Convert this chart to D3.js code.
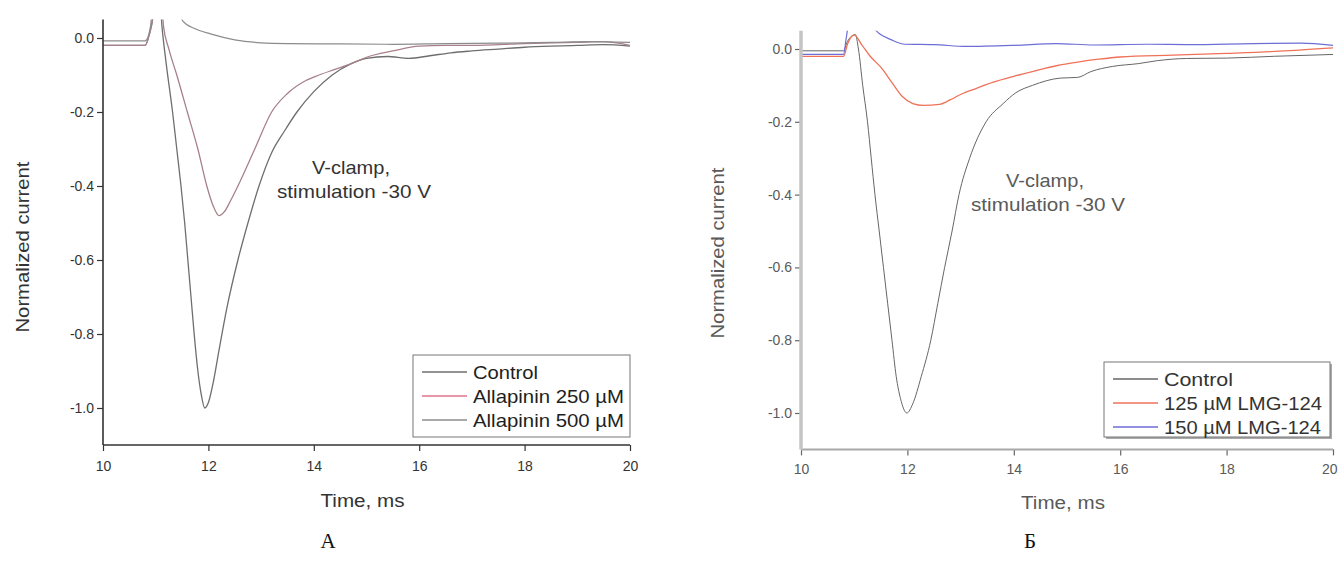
<!DOCTYPE html>
<html>
<head>
<meta charset="utf-8">
<script src="https://cdn.jsdelivr.net/npm/d3@7"></script>
<style>
  body { margin: 0; background: #fff; }
  svg { display: block; font-family: "Liberation Sans", Arial, sans-serif; }
</style>
</head>
<body>
<div id="chart"></div>
<script>
(function() {
    'use strict';

    // ---- data ----
    var timeTicks = [10, 12, 14, 16, 18, 20];
    var timeMinor = [11, 13, 15, 17, 19];
    var currentTicks = [0, -0.2, -0.4, -0.6, -0.8, -1.0];
    var currentMinor = [-0.1, -0.3, -0.5, -0.7, -0.9, -1.1];

    var legendA = ['Control', 'Allapinin 250 \u00b5M', 'Allapinin 500 \u00b5M'];
    var legendB = ['Control', '125 \u00b5M LMG-124', '150 \u00b5M LMG-124'];

    // panel A: time (ms), normalized current
    var controlA = [[10,-0.02],[10.8,-0.02],[10.88,0.01],[10.95,0.06],[11.0,0.14],[11.06,0.14],[11.12,0.03],
        [11.2,-0.07],[11.32,-0.2],[11.4,-0.3],[11.48,-0.4],[11.55,-0.5],[11.61,-0.6],[11.67,-0.7],[11.73,-0.8],
        [11.8,-0.9],[11.86,-0.96],[11.93,-1.0],[12.0,-0.985],[12.1,-0.925],[12.2,-0.845],[12.35,-0.73],
        [12.56,-0.6],[12.75,-0.5],[12.96,-0.4],[13.2,-0.31],[13.45,-0.25],[13.68,-0.2],[14.0,-0.145],
        [14.35,-0.1],[14.7,-0.07],[15.0,-0.055],[15.4,-0.05],[15.8,-0.055],[16.2,-0.048],[16.6,-0.04],
        [17,-0.035],[17.5,-0.03],[18,-0.025],[18.5,-0.022],[19,-0.02],[19.5,-0.018],[20,-0.022]];
    var allap250 = [[10,-0.02],[10.8,-0.02],[10.88,0.01],[10.95,0.06],[11.0,0.14],[11.08,0.14],[11.15,0.03],
        [11.25,-0.03],[11.4,-0.1],[11.6,-0.2],[11.8,-0.3],[11.97,-0.4],[12.08,-0.45],[12.2,-0.48],[12.3,-0.47],
        [12.42,-0.44],[12.56,-0.4],[12.88,-0.3],[13.2,-0.2],[13.5,-0.15],[13.85,-0.115],[14.1,-0.1],
        [14.4,-0.085],[14.7,-0.07],[15.0,-0.052],[15.5,-0.035],[16,-0.022],[16.5,-0.02],[17,-0.02],
        [18,-0.015],[19,-0.012],[19.5,-0.01],[20,-0.02]];
    var allap500 = [[10,-0.008],[10.8,-0.008],[10.9,0.03],[11.0,0.2],[11.3,0.2],[11.45,0.07],[11.52,0.045],
        [11.75,0.025],[12.04,0.011],[12.5,-0.005],[13.0,-0.013],[13.5,-0.015],[14.5,-0.016],[15.5,-0.017],
        [16.5,-0.015],[17.5,-0.014],[18.5,-0.012],[19.2,-0.01],[20,-0.012]];

    // panel Б
    var controlB = [[10,-0.005],[10.8,-0.005],[10.87,0.02],[10.95,0.035],[11.02,0.04],[11.08,0.0],[11.16,-0.1],
        [11.25,-0.2],[11.32,-0.3],[11.39,-0.4],[11.47,-0.5],[11.55,-0.6],[11.63,-0.7],[11.71,-0.8],[11.79,-0.9],
        [11.87,-0.96],[11.99,-1.0],[12.1,-0.975],[12.26,-0.9],[12.44,-0.8],[12.57,-0.7],[12.7,-0.6],
        [12.84,-0.5],[12.97,-0.4],[13.17,-0.3],[13.48,-0.2],[13.8,-0.15],[14.04,-0.12],[14.35,-0.1],
        [14.87,-0.08],[15.2,-0.078],[15.45,-0.062],[15.85,-0.048],[16.35,-0.04],[16.7,-0.032],[17.25,-0.026],
        [18,-0.025],[18.9,-0.02],[20,-0.015]];
    var lmg125 = [[10,-0.02],[10.8,-0.02],[10.88,0.016],[11.0,0.038],[11.15,0.01],[11.3,-0.02],[11.5,-0.05],
        [11.7,-0.09],[11.9,-0.13],[12.1,-0.15],[12.3,-0.155],[12.6,-0.152],[12.8,-0.14],[13.0,-0.125],
        [13.3,-0.108],[13.6,-0.092],[14.0,-0.075],[14.4,-0.06],[14.8,-0.046],[15.2,-0.036],[15.6,-0.028],
        [16,-0.022],[17,-0.017],[18,-0.012],[19,-0.006],[20,0.003]];
    var lmg150 = [[10,-0.015],[10.8,-0.015],[10.85,0.03],[10.9,0.07],[11.1,0.09],[11.35,0.06],[11.45,0.045],
        [11.7,0.025],[11.95,0.013],[12.5,0.012],[13.1,0.007],[14.0,0.01],[14.8,0.015],[15.5,0.011],
        [16.5,0.013],[17.3,0.012],[18.5,0.015],[19.4,0.016],[20,0.01]];

    var W = 1338, H = 561;

    var svg = d3.select('#chart')
      .append('svg')
        .attr('width', W)
        .attr('height', H);

    svg.append('rect').attr('width', W).attr('height', H).attr('fill', 'white');

    // Origin writes a plain hyphen, not the unicode minus d3 uses
    var fmtY = function(d) { return d3.format('.1f')(d).replace('\u2212', '-'); };

    /*
     * one Origin-style panel
     */
    function panel(p) {
        var x = d3.scaleLinear().domain([10, 20]).range([p.left, p.right]);
        var y = d3.scaleLinear().domain([-1.1, 0.05]).range([p.bottom, p.top]);
        var g = svg.append('g');

        g.append('clipPath').attr('id', p.id)
          .append('rect')
            .attr('x', p.left).attr('y', p.top)
            .attr('width', p.right - p.left).attr('height', p.bottom - p.top);

        var line = d3.line()
            .x(function(d) { return x(d[0]); })
            .y(function(d) { return y(d[1]); })
            .curve(d3.curveMonotoneX);

        var plot = g.append('g').attr('clip-path', 'url(#' + p.id + ')');
        p.series.forEach(function(s) {
            plot.append('path')
                .datum(s.data)
                .attr('fill', 'none')
                .attr('stroke', s.color)
                .attr('stroke-width', s.width)
                .attr('d', line);
        });

        // axes
        var ax = g.append('g').attr('transform', 'translate(0,' + p.bottom + ')');
        ax.call(d3.axisBottom(x).tickValues(timeMinor).tickSize(4).tickFormat(''));
        ax.call(d3.axisBottom(x).tickValues(timeTicks).tickSize(6).tickSizeOuter(0).tickFormat(d3.format('d')));
        var ay = g.append('g').attr('transform', 'translate(' + p.left + ',0)');
        ay.call(d3.axisLeft(y).tickValues(currentMinor).tickSize(4).tickFormat(''));
        ay.call(d3.axisLeft(y).tickValues(currentTicks).tickSize(6).tickSizeOuter(0).tickFormat(fmtY));

        [ax, ay].forEach(function(a) {
            a.selectAll('.domain').remove();
            a.selectAll('line').attr('stroke', p.tickColor).attr('stroke-width', 1.2);
            a.selectAll('text')
                .attr('fill', p.textColor)
                .style('font-size', p.tickFont + 'px')
                .style('font-family', '"Liberation Sans", Arial, sans-serif');
        });
        ax.selectAll('text').attr('y', p.xLabelOffset);
        ay.selectAll('text').attr('x', -9);
        // the last label sits on the page edge in panel Б
        if (p.right > W - 10) {
            ax.selectAll('.tick text').filter(function(d) { return d === 20; })
                .attr('text-anchor', 'end').attr('dx', W - 1 - p.right);
        }

        g.append('line')
            .attr('x1', p.left).attr('x2', p.right)
            .attr('y1', p.bottom).attr('y2', p.bottom)
            .attr('stroke', p.xAxisColor).attr('stroke-width', p.xAxisWidth);
        g.append('line')
            .attr('x1', p.left).attr('x2', p.left)
            .attr('y1', p.top).attr('y2', p.bottom)
            .attr('stroke', p.yAxisColor).attr('stroke-width', p.yAxisWidth);

        // titles
        g.append('text')
            .attr('x', (p.left + p.right) / 2 - 4)
            .attr('y', p.timeY)
            .attr('text-anchor', 'middle')
            .attr('dominant-baseline', 'central')
            .attr('fill', p.textColor)
            .style('font-size', '18px')
            .attr('textLength', 84).attr('lengthAdjust', 'spacingAndGlyphs')
            .text('Time, ms');
        g.append('text')
            .attr('transform', 'translate(' + p.titleX + ',' + p.titleY + ') rotate(-90)')
            .attr('text-anchor', 'middle')
            .attr('dominant-baseline', 'central')
            .attr('fill', p.textColor)
            .style('font-size', '18px')
            .attr('textLength', 171).attr('lengthAdjust', 'spacingAndGlyphs')
            .text('Normalized current');

        // annotation
        var note = g.append('g').attr('fill', p.textColor).style('font-size', '19px');
        note.append('text')
            .attr('x', p.noteX - 3).attr('y', p.noteY)
            .attr('text-anchor', 'middle').attr('dominant-baseline', 'central')
            .attr('textLength', 78).attr('lengthAdjust', 'spacingAndGlyphs')
            .text('V-clamp,');
        note.append('text')
            .attr('x', p.noteX).attr('y', p.noteY + 24)
            .attr('text-anchor', 'middle').attr('dominant-baseline', 'central')
            .attr('textLength', 154).attr('lengthAdjust', 'spacingAndGlyphs')
            .text('stimulation -30 V');

        // legend
        var lg = g.append('g');
        if (p.legShadow) {
            lg.append('rect')
                .attr('x', p.legX + 2).attr('y', p.legY + 2)
                .attr('width', p.legW).attr('height', p.legH)
                .attr('fill', '#aaa');
        }
        lg.append('rect')
            .attr('x', p.legX).attr('y', p.legY)
            .attr('width', p.legW).attr('height', p.legH)
            .attr('fill', 'white')
            .attr('stroke', p.legStroke).attr('stroke-width', 1);
        p.series.forEach(function(s, i) {
            var ry = p.legY + 17 + i * 24;
            lg.append('line')
                .attr('x1', p.legX + 9).attr('x2', p.legX + 54)
                .attr('y1', ry).attr('y2', ry)
                .attr('stroke', s.legendColor || s.color).attr('stroke-width', 1.4);
            lg.append('text')
                .attr('x', p.legX + 60).attr('y', ry)
                .attr('dominant-baseline', 'central')
                .attr('fill', p.legText)
                .style('font-size', '19px')
                .attr('textLength', s.textLen).attr('lengthAdjust', 'spacingAndGlyphs')
                .text(p.labels[i]);
        });

        // panel letter
        svg.append('text')
            .attr('x', p.letterX).attr('y', 548)
            .attr('text-anchor', 'middle')
            .attr('fill', '#111')
            .style('font-family', '"Liberation Serif", "Times New Roman", serif')
            .style('font-size', '21px')
            .text(p.letter);
    }

    panel({
        id: 'clipA', left: 103, right: 630, top: 19.5, bottom: 445,
        tickColor: '#333', textColor: '#333', tickFont: 14, xLabelOffset: 16,
        xAxisColor: '#333', xAxisWidth: 1.6, yAxisColor: '#333', yAxisWidth: 1.6,
        timeY: 501, titleX: 23, titleY: 247, noteX: 354, noteY: 167,
        legX: 413, legY: 355, legW: 217, legH: 82, legStroke: '#777', legText: '#1e1e1e', legShadow: false,
        labels: legendA, letter: 'A', letterX: 328,
        series: [
            { data: controlA, color: '#6e6e6e', width: 1.3, textLen: 65 },
            { data: allap250, color: '#a8808a', width: 1.3, legendColor: '#e0758f', textLen: 151 },
            { data: allap500, color: '#8c8c8c', width: 1.2, textLen: 151 }
        ]
    });

    panel({
        id: 'clipB', left: 801, right: 1333, top: 30.8, bottom: 449.4,
        tickColor: '#666', textColor: '#5a5a5a', tickFont: 14, xLabelOffset: 15,
        xAxisColor: '#a8a8a8', xAxisWidth: 2, yAxisColor: '#c4c4c4', yAxisWidth: 3.5,
        timeY: 503, titleX: 718, titleY: 253, noteX: 1048, noteY: 180,
        legX: 1104, legY: 362, legW: 226, legH: 75, legStroke: '#777', legText: '#333', legShadow: true,
        labels: legendB, letter: '\u0411', letterX: 1030,
        series: [
            { data: controlB, color: '#666', width: 1, textLen: 69 },
            { data: lmg125, color: '#ef7258', width: 1.3, textLen: 158 },
            { data: lmg150, color: '#6d6dd6', width: 1.2, textLen: 157 }
        ]
    });
}());
</script>
</body>
</html>
